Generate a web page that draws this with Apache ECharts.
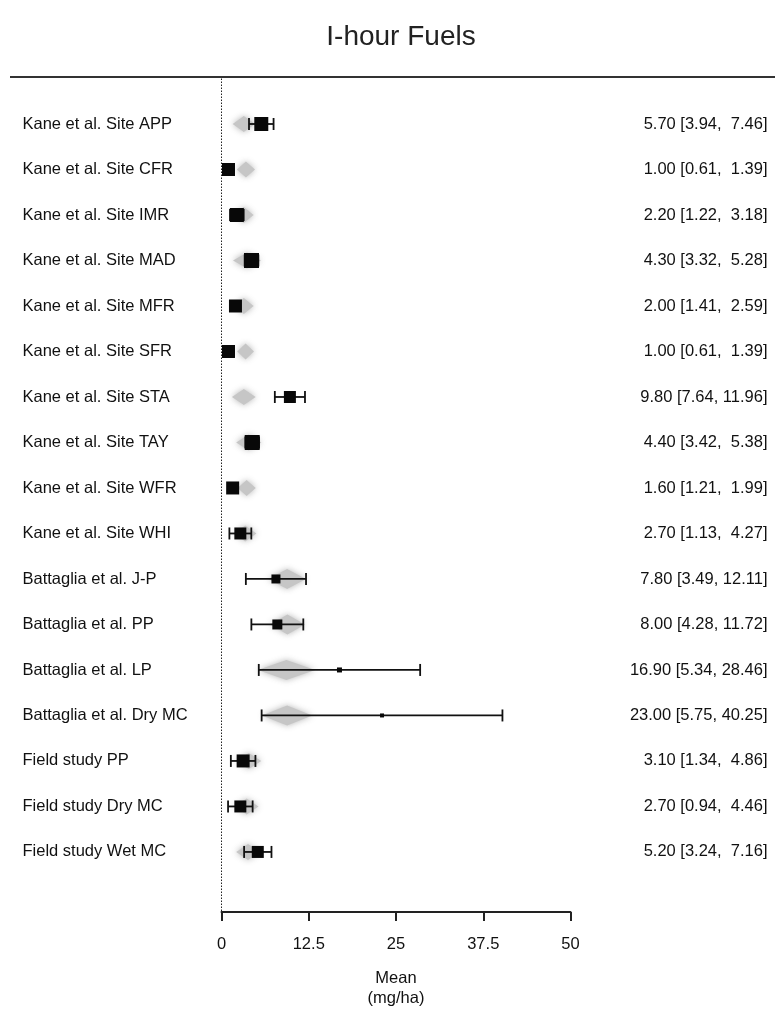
<!DOCTYPE html>
<html>
<head>
<meta charset="utf-8">
<script src="https://cdn.jsdelivr.net/npm/echarts@6/dist/echarts.min.js"></script>
<style>
  html, body { margin: 0; padding: 0; background: #fff; }
  #chart { width: 775px; height: 1009px; }
</style>
</head>
<body>
<div id="chart"></div>
<script>
// ---- data ----
const studies = [
  'Kane et al. Site APP', 'Kane et al. Site CFR', 'Kane et al. Site IMR', 'Kane et al. Site MAD',
  'Kane et al. Site MFR', 'Kane et al. Site SFR', 'Kane et al. Site STA', 'Kane et al. Site TAY',
  'Kane et al. Site WFR', 'Kane et al. Site WHI', 'Battaglia et al. J-P', 'Battaglia et al. PP',
  'Battaglia et al. LP', 'Battaglia et al. Dry MC', 'Field study PP', 'Field study Dry MC', 'Field study Wet MC'
];
const means = [5.70, 1.00, 2.20, 4.30, 2.00, 1.00, 9.80, 4.40, 1.60, 2.70, 7.80, 8.00, 16.90, 23.00, 3.10, 2.70, 5.20];
const lower = [3.94, 0.61, 1.22, 3.32, 1.41, 0.61, 7.64, 3.42, 1.21, 1.13, 3.49, 4.28, 5.34, 5.75, 1.34, 0.94, 3.24];
const upper = [7.46, 1.39, 3.18, 5.28, 2.59, 1.39, 11.96, 5.38, 1.99, 4.27, 12.11, 11.72, 28.46, 40.25, 4.86, 4.46, 7.16];
// relative study weights (drive square size)
const weights = [14, 13, 14, 15, 13, 13, 12, 15, 13, 12, 9, 10, 5, 4, 13, 12, 12];
// grey predicted distributions: centre and half-width (mg/ha)
const predCenter = [3.2, 3.5, 3.2, 3.65, 3.2, 3.45, 3.2, 3.9, 3.6, 3.4, 9.4, 9.45, 9.3, 9.4, 3.9, 3.6, 3.8];
const predHalf   = [1.6, 1.3, 1.4, 2.0, 1.4, 1.2, 1.7, 1.8, 1.3, 1.6, 2.7, 2.5, 4.1, 3.6, 1.8, 1.7, 1.7];
const xTicks = [0, 12.5, 25, 37.5, 50];

// ---- helpers ----
const fmt = v => v.toFixed(2);
const upW = Math.max(...upper.map(v => fmt(v).length));
const annotations = means.map((m, i) => {
  let u = fmt(upper[i]);
  while (u.length < upW) u = ' ' + u;
  return fmt(m) + ' [' + fmt(lower[i]) + ', ' + u + ']';
});

const FONT = '"Liberation Sans", Arial, sans-serif';
const chart = echarts.init(document.getElementById('chart'), null, { renderer: 'canvas' });

const labelFromIndex = arr => v => {
  const i = Math.round(v);
  return (Math.abs(v - i) < 1e-6 && i >= 0 && i < arr.length) ? arr[i] : '';
};

const yCommon = {
  type: 'value', inverse: true, min: -1, max: 17.32, interval: 1,
  axisLine: { show: false }, axisTick: { show: false }, splitLine: { show: false }
};

chart.setOption({
  animation: false,
  backgroundColor: '#fff',
  title: {
    text: 'I-hour Fuels', left: 396, top: 18, textAlign: 'center',
    textStyle: { fontFamily: FONT, fontSize: 28, fontWeight: 'normal', color: '#222' }
  },
  graphic: [{
    type: 'line', shape: { x1: 10, y1: 77, x2: 775, y2: 77 },
    style: { stroke: '#333', lineWidth: 2 }
  }],
  grid: { left: 221.5, right: 204.5, top: 78.5, bottom: 97, containLabel: false, outerBoundsMode: 'none' },
  xAxis: {
    type: 'value', min: 0, max: 50, interval: 12.5,
    axisLine: { show: true, onZero: false, lineStyle: { color: '#222', width: 2 } },
    axisTick: { show: true, length: 9, lineStyle: { color: '#222', width: 2 } },
    axisLabel: { fontFamily: FONT, fontSize: 16.5, color: '#111', margin: 24,
      formatter: v => xTicks.includes(v) ? String(v) : '' },
    splitLine: { show: false },
    name: 'Mean\n(mg/ha)', nameLocation: 'middle', nameGap: 56,
    nameTextStyle: { fontFamily: FONT, fontSize: 16.5, color: '#111', lineHeight: 20 }
  },
  yAxis: [
    Object.assign({}, yCommon, {
      position: 'left',
      axisLabel: { fontFamily: FONT, fontSize: 16.5, color: '#111', align: 'left', margin: 199,
        formatter: labelFromIndex(studies) }
    }),
    Object.assign({}, yCommon, {
      position: 'right',
      axisLabel: { fontFamily: FONT, fontSize: 16.5, color: '#111', align: 'right', margin: 197,
        formatter: labelFromIndex(annotations) }
    })
  ],
  series: [
    {
      name: 'predicted', type: 'custom', yAxisIndex: 0,
      data: predCenter.map((c, i) => [c, i, predHalf[i]]),
      renderItem: (params, api) => {
        const c = api.coord([api.value(0), api.value(1)]);
        const lo = api.coord([api.value(0) - api.value(2), api.value(1)]);
        const hi = api.coord([api.value(0) + api.value(2), api.value(1)]);
        const h = api.value(1) >= 10 && api.value(1) <= 13 ? 10 : 8;
        return {
          type: 'polygon',
          shape: { points: [[lo[0], c[1]], [c[0], c[1] - h], [hi[0], c[1]], [c[0], c[1] + h]] },
          style: { fill: '#c6c6c6', shadowBlur: 6, shadowColor: 'rgba(175,175,175,0.9)' }
        };
      },
      markLine: {
        silent: true, symbol: 'none', label: { show: false },
        lineStyle: { type: [1.5, 1.5], color: '#222', width: 1 },
        data: [{ xAxis: 0 }]
      },
      z: 1
    },
    {
      name: 'observed', type: 'custom', yAxisIndex: 0,
      data: means.map((m, i) => [m, i, lower[i], upper[i], weights[i]]),
      renderItem: (params, api) => {
        const y = api.value(1);
        const c = api.coord([api.value(0), y]);
        const lo = api.coord([api.value(2), y]);
        const hi = api.coord([api.value(3), y]);
        const s = api.value(4);
        const cap = 6;
        const ls = { stroke: '#111', lineWidth: 1.8 };
        return {
          type: 'group',
          children: [
            { type: 'line', shape: { x1: lo[0], y1: c[1], x2: hi[0], y2: c[1] }, style: ls },
            { type: 'line', shape: { x1: lo[0], y1: c[1] - cap, x2: lo[0], y2: c[1] + cap }, style: ls },
            { type: 'line', shape: { x1: hi[0], y1: c[1] - cap, x2: hi[0], y2: c[1] + cap }, style: ls },
            { type: 'rect', shape: { x: c[0] - s / 2, y: c[1] - s / 2, width: s, height: s },
              style: { fill: '#080808' } }
          ]
        };
      },
      z: 3
    }
  ]
});
</script>
</body>
</html>
